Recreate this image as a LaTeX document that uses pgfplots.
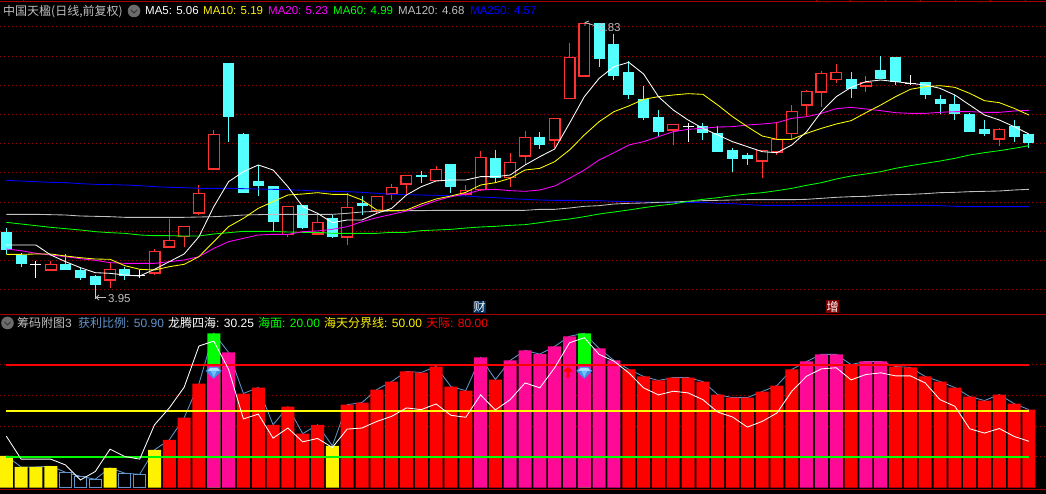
\documentclass[border=0pt]{standalone}
\usepackage{pgfplots}
\usepackage{pgfplotstable}
\usepackage{fontspec}
\pgfplotsset{compat=1.18}
\setmainfont{Liberation Sans}
\newfontfamily\cjk{Noto Sans CJK SC}

\definecolor{gridred}{HTML}{A00000}
\definecolor{sepred}{HTML}{A80000}
\definecolor{upcyan}{HTML}{54FFFF}
\definecolor{upred}{HTML}{FF3232}
\definecolor{ltgray}{HTML}{C0C0C0}
\definecolor{profit}{HTML}{5F94CC}
\definecolor{hotpink}{HTML}{FF0A96}
\definecolor{puremag}{HTML}{FF00FF}
\definecolor{lnred}{HTML}{FF0000}
\definecolor{lnyel}{HTML}{FFFF00}
\definecolor{lngrn}{HTML}{00FF00}
\definecolor{gemA}{HTML}{3E8FE8}
\definecolor{gemB}{HTML}{A8DDFF}
\definecolor{gemC}{HTML}{70C0FA}
\definecolor{flagblue}{HTML}{003060}
\definecolor{flagred}{HTML}{800000}

% upper panel has no price scale, heights are read off the screen (3 units = 1 px, from the top)
% k: 0 falling, 1 rising, 2 doji
\pgfplotstableread{
i top bot hi lo k m5 m10 m20 m60 m120 m250
0 696 750 685 762 0 735 763 747 667 643 541
1 766 792 760 800 0 735 763 752 672 643 543
2 792 795 782 833 2 735 762 760 677 643 545
3 793 812 782 812 1 765 762 765 682 644 547
4 793 810 762 810 0 785 768 770 686 645 548
5 810 834 803 840 0 803 773 776 690 648 551
6 828 855 825 897 0 818 777 781 695 649 553
7 808 842 790 863 1 820 778 788 698 650 554
8 807 827 800 840 0 825 797 790 700 652 555
9 825 828 810 835 2 828 808 790 705 652 557
10 754 821 747 825 1 808 810 790 707 652 560
11 721 743 657 743 1 785 800 785 707 652 562
12 677 712 677 741 1 762 793 780 708 652 563
13 580 641 556 645 1 710 770 770 708 651 565
14 403 509 390 509 1 620 725 745 702 650 565
15 189 351 189 426 0 545 680 725 698 648 565
16 402 579 399 579 0 515 655 715 694 645 566
17 543 558 495 588 0 495 625 705 694 644 567
18 558 666 558 695 0 510 605 703 694 643 568
19 619 705 619 710 1 560 585 703 696 643 569
20 615 684 615 688 0 620 582 695 697 643 571
21 667 704 640 704 1 640 578 693 697 643 573
22 654 711 645 714 0 668 583 688 700 643 574
23 622 713 580 735 1 660 583 680 700 640 575
24 609 617 588 645 0 660 600 665 700 636 577
25 589 633 587 640 1 640 630 653 700 634 580
26 562 584 552 600 1 625 632 643 697 633 583
27 526 554 526 582 1 585 630 633 697 632 584
28 525 530 513 549 0 560 612 618 692 632 585
29 508 543 498 543 1 543 597 602 690 631 586
30 492 561 492 580 0 540 588 590 688 631 587
31 571 584 556 588 1 540 577 582 684 631 588
32 470 570 453 572 1 530 555 570 681 631 591
33 474 534 450 550 0 530 548 568 679 631 593
34 487 535 460 561 1 525 535 572 676 631 596
35 412 470 393 495 1 495 510 574 674 631 598
36 411 435 396 447 0 470 505 570 668 628 600
37 355 422 355 445 1 447 485 558 662 628 601
38 172 298 129 298 1 370 450 535 657 624 601
39 70 230 70 230 1 290 405 510 650 619 602
40 70 177 70 200 0 235 365 480 642 617 602
41 132 228 102 240 0 200 335 458 636 612 604
42 216 285 183 297 0 187 318 435 630 610 605
43 298 354 258 360 0 222 298 425 623 609 606
44 351 396 330 412 0 290 290 410 617 607 607
45 373 392 373 435 1 330 285 395 612 606 607
46 378 381 368 426 2 360 281 388 604 604 607
47 377 399 369 420 0 385 283 385 598 602 607
48 400 456 378 456 0 405 315 381 593 601 610
49 450 477 445 516 0 425 350 380 587 600 611
50 465 477 459 495 0 440 380 375 582 599 614
51 450 485 450 533 1 455 408 372 578 599 616
52 418 458 365 465 1 458 418 368 572 599 616
53 334 402 316 418 1 435 418 355 565 599 616
54 274 317 270 348 1 395 400 350 556 598 616
55 220 278 213 321 1 335 385 340 548 595 616
56 217 240 192 249 1 290 372 326 537 592 616
57 237 267 216 294 0 262 362 322 528 590 616
58 247 260 228 276 1 245 338 327 522 589 616
59 210 238 168 238 0 240 315 332 515 586 616
60 171 246 171 255 0 245 290 338 505 584 616
61 249 252 225 255 2 250 268 340 497 583 616
62 246 285 246 297 0 255 260 340 490 581 616
63 297 312 285 342 0 265 257 337 483 578 617
64 312 342 285 360 0 285 262 335 475 577 619
65 342 396 339 396 0 315 280 335 465 575 620
66 387 402 360 408 0 345 302 337 458 574 620
67 388 419 384 438 1 360 308 337 452 573 620
68 378 411 360 426 0 380 325 333 445 570 620
69 402 429 402 444 0 402 345 331 437 568 620
}\kline

% lower panel: v profit ratio, w longteng, k: 0 yellow, 1 hollow, 2 red, 3 pink, 4 green top
\pgfplotstableread{
i v w k
0 20.7 33.6 0
1 13.5 18.6 0
2 13.5 18.6 0
3 14.0 18.6 0
4 10.0 14.8 1
5 7.4 5.0 1
6 5.5 10.5 1
7 12.9 25.1 0
8 9.4 20.3 1
9 8.7 18.6 1
10 24.7 41.0 0
11 31.2 52.0 2
12 45.6 65.5 2
13 67.9 92.4 2
14 100.7 95.6 4
15 88.2 77.1 3
16 61.4 44.8 2
17 65.3 48.0 2
18 41.0 32.3 2
19 52.8 38.9 2
20 35.2 29.9 2
21 41.0 32.1 2
22 27.3 26.2 0
23 54.1 38.2 2
24 55.5 38.9 2
25 64.0 43.2 2
26 69.2 46.5 2
27 75.8 52.0 2
28 75.1 50.9 2
29 79.0 54.6 2
30 65.9 47.2 2
31 63.3 45.9 2
32 84.9 60.5 3
33 70.5 50.7 2
34 83.0 57.4 3
35 89.5 68.3 3
36 87.1 65.1 3
37 92.1 78.2 3
38 98.7 94.5 3
39 100.7 97.8 4
40 90.8 86.9 3
41 83.0 82.5 3
42 77.1 74.9 2
43 72.5 65.1 2
44 69.9 60.5 2
45 71.8 62.9 2
46 71.8 61.8 2
47 69.2 57.4 2
48 60.7 49.3 2
49 58.7 46.1 2
50 58.7 39.5 2
51 62.7 43.2 2
52 66.6 48.7 2
53 77.1 62.9 2
54 82.3 72.7 3
55 86.9 77.5 3
56 86.9 78.2 3
57 80.3 70.3 2
58 82.3 73.8 3
59 82.3 74.9 3
60 79.0 72.9 2
61 78.4 72.9 2
62 72.5 68.3 2
63 69.2 57.4 2
64 65.3 53.1 2
65 59.4 38.4 2
66 56.8 35.6 2
67 60.7 38.6 2
68 54.8 33.4 2
69 50.9 30.25 2
}\chips

\newcommand{\kx}[1]{\thisrow{k}==#1 ? \thisrow{i} : nan}

\pgfplotsset{
  panel/.style={
    scale only axis, width=1046pt,
    xmin=-0.425, xmax=70.15,
    axis line style={draw=none}, tick style={draw=none},
    xtick=\empty, yticklabels={},
  },
  dotgrid/.style={
    ymajorgrids,
    grid style={draw=gridred, line width=1pt, dash pattern=on 1pt off 3pt},
  },
  ma/.style={no markers, line width=0.85pt, draw=#1},
  level/.style={no markers, line width=1.4pt, draw=#1},
  colbar/.style={ybar, bar width=13pt, bar shift=0pt, fill=#1, draw=none},
}

% one layer of candles, kind colour width from to inset
\newcommand{\cpass}[6]{%
  \addplot[no markers, draw=none,
    error bars/.cd, y dir=plus, y explicit, error mark=none,
    error bar style={draw=#2, line width=#3pt}]
    table[x expr=\kx{#1}, y expr=\thisrow{#4}+#6, y error plus expr=\thisrow{#5}-\thisrow{#4}-2*#6]{\kline};
}

\pgfdeclareplotmark{gem}{%
  \pgfsetfillcolor{gemA}%
  \pgfpathmoveto{\pgfpoint{-8pt}{2pt}}\pgfpathlineto{\pgfpoint{-4pt}{6pt}}%
  \pgfpathlineto{\pgfpoint{4pt}{6pt}}\pgfpathlineto{\pgfpoint{8pt}{2pt}}%
  \pgfpathlineto{\pgfpoint{0pt}{-6pt}}\pgfpathclose\pgfusepathqfill
  \pgfsetfillcolor{gemB}%
  \pgfpathmoveto{\pgfpoint{-6pt}{2pt}}\pgfpathlineto{\pgfpoint{-3.5pt}{5pt}}%
  \pgfpathlineto{\pgfpoint{3.5pt}{5pt}}\pgfpathlineto{\pgfpoint{6pt}{2pt}}\pgfpathclose\pgfusepathqfill
  \pgfsetfillcolor{gemC}%
  \pgfpathmoveto{\pgfpoint{-3pt}{2pt}}\pgfpathlineto{\pgfpoint{3pt}{2pt}}%
  \pgfpathlineto{\pgfpoint{0pt}{-4.5pt}}\pgfpathclose\pgfusepathqfill
}
\pgfdeclareplotmark{uparrow}{%
  \pgfsetfillcolor{red}%
  \pgfpathmoveto{\pgfpoint{0pt}{5.5pt}}\pgfpathlineto{\pgfpoint{-5.5pt}{0.5pt}}%
  \pgfpathlineto{\pgfpoint{-1.5pt}{0.5pt}}\pgfpathlineto{\pgfpoint{-1.5pt}{-5.5pt}}%
  \pgfpathlineto{\pgfpoint{1.5pt}{-5.5pt}}\pgfpathlineto{\pgfpoint{1.5pt}{0.5pt}}%
  \pgfpathlineto{\pgfpoint{5.5pt}{0.5pt}}\pgfpathclose\pgfusepathqfill
}

\newcommand{\lab}[4]{\node[anchor=base west, inner sep=0pt, text=#1] at (#2pt,494pt-#3pt) {#4};}
\newcommand{\chev}[2]{%
  \fill[gray!85!black] (#1pt,494pt-#2pt) circle (6.3pt);
  \draw[black!80, line width=1pt] (#1pt-3pt,494pt-#2pt+1pt) -- (#1pt,494pt-#2pt-2pt) -- (#1pt+3pt,494pt-#2pt+1pt);
}

\begin{document}
\begin{tikzpicture}
\fill[black] (0pt,0pt) rectangle (1046pt,494pt);

% K line panel
\begin{axis}[panel, dotgrid, at={(0pt,180pt)}, anchor=south west, height=314pt,
    y dir=reverse, ymin=0, ymax=942,
    ytick={80,170,257,344,431,518,607,694,782,869}]
\cpass{0}{upcyan}{1}{hi}{lo}{0}
\cpass{0}{upcyan}{11}{top}{bot}{0}
\cpass{1}{upred}{1}{hi}{lo}{0}
\cpass{1}{upred}{12}{top}{bot}{0}
\cpass{1}{black}{9.5}{top}{bot}{3.5}
\cpass{2}{white}{1}{hi}{lo}{0}
\cpass{2}{white}{11}{top}{bot}{0}
\addplot[ma=blue] table[x=i,y=m250]{\kline};
\addplot[ma=ltgray] table[x=i,y=m120]{\kline};
\addplot[ma=lngrn] table[x=i,y=m60]{\kline};
\addplot[ma=puremag] table[x=i,y=m20]{\kline};
\addplot[ma=lnyel] table[x=i,y=m10]{\kline};
\addplot[ma=white] table[x=i,y=m5]{\kline};
\end{axis}

% chips panel
\begin{axis}[panel, dotgrid, at={(0pt,0pt)}, anchor=south west, height=180pt,
    ymin=-4.13, ymax=113.26,
    ytick={20,40,60,80}]
\addplot[ma=profit] table[x=i,y=v]{\chips};
\addplot[colbar=green] table[x expr=\kx{4},y=v]{\chips};
\addplot[colbar=hotpink] coordinates {(14,79.5)(39,79.5)};
\addplot[colbar=hotpink] table[x expr=\kx{3},y=v]{\chips};
\addplot[colbar=red] table[x expr=\kx{2},y=v]{\chips};
\addplot[colbar=yellow] table[x expr=\kx{0},y=v]{\chips};
\addplot[ybar, bar width=12pt, bar shift=0pt, fill=black, draw=profit, line width=1pt] table[x expr=\kx{1},y=v]{\chips};
\addplot[level=lnred] coordinates {(0,80)(69,80)};
\addplot[level=lnyel] coordinates {(0,50)(69,50)};
\addplot[level=lngrn] coordinates {(0,20)(69,20)};
\addplot[ma=white] table[x=i,y=w]{\chips};
\addplot[only marks, mark=gem] coordinates {(14,74.9)(39,74.9)};
\addplot[only marks, mark=uparrow] coordinates {(37.9,75.3)};
\end{axis}

% frame lines
\draw[sepred, line width=1pt] (0pt,494pt-1.5pt) -- (1046pt,494pt-1.5pt);
\foreach \tx in {23,816,850.5,885,920,955,990,1025}
  \draw[sepred, line width=1pt] (\tx pt,494pt) -- (\tx pt,494pt-1.5pt);
\draw[sepred, line width=1pt] (0pt,494pt-314.5pt) -- (1046pt,494pt-314.5pt);
\draw[sepred, line width=1pt] (0pt,494pt-490pt) -- (1046pt,494pt-490pt);

% high and low tags
\draw[ltgray, line width=0.8pt] (96pt,494pt-297.5pt) -- (106pt,494pt-297.5pt);
\draw[ltgray, line width=0.8pt] (99pt,494pt-295pt) -- (96pt,494pt-297.5pt) -- (99pt,494pt-300pt);
\lab{ltgray}{108}{302.5}{\fontsize{11.5}{13}\selectfont 3.95}
\draw[ltgray, line width=0.8pt] (585pt,494pt-22.5pt) -- (596pt,494pt-26pt);
\draw[ltgray, line width=0.8pt] (585pt,494pt-26pt) -- (585pt,494pt-22.5pt) -- (589pt,494pt-21pt);
\lab{ltgray}{598}{32}{\fontsize{11.5}{13}\selectfont 6.83}

% news flags
\fill[flagblue] (473pt,494pt-301pt) rectangle (486pt,494pt-313pt);
\node[text=white, inner sep=0pt] at (479.5pt,494pt-307pt) {\fontsize{12}{12}\selectfont\cjk 财};
\fill[flagred] (826pt,494pt-300pt) rectangle (839pt,494pt-313pt);
\node[text=white, inner sep=0pt] at (832.5pt,494pt-306.5pt) {\fontsize{12}{12}\selectfont\cjk 增};

% upper title row
\lab{ltgray}{3}{15.5}{\fontsize{12}{14}\selectfont\cjk 中国天楹(日线,前复权)}
\chev{134}{11}
\lab{white}{145}{15}{\fontsize{11.5}{14}\selectfont MA5: 5.06}
\lab{yellow}{203}{15}{\fontsize{11.5}{14}\selectfont MA10: 5.19}
\lab{puremag}{268}{15}{\fontsize{11.5}{14}\selectfont MA20: 5.23}
\lab{green}{333}{15}{\fontsize{11.5}{14}\selectfont MA60: 4.99}
\lab{ltgray}{398}{15}{\fontsize{11.5}{14}\selectfont MA120: 4.68}
\lab{blue}{470}{15}{\fontsize{11.5}{14}\selectfont MA250: 4.57}

% lower title row
\chev{7.5}{323}
\lab{ltgray}{17}{328}{\fontsize{12}{14}\selectfont{\cjk 筹码附图}3}
\lab{profit}{78}{328}{\fontsize{12}{14}\selectfont{\cjk 获利比例}: 50.90}
\lab{white}{168}{328}{\fontsize{12}{14}\selectfont{\cjk 龙腾四海}: 30.25}
\lab{green}{258}{328}{\fontsize{12}{14}\selectfont{\cjk 海面}: 20.00}
\lab{yellow}{324}{328}{\fontsize{12}{14}\selectfont{\cjk 海天分界线}: 50.00}
\lab{red}{426}{328}{\fontsize{12}{14}\selectfont{\cjk 天际}: 80.00}

\pgfresetboundingbox
\path[use as bounding box] (0pt,0pt) rectangle (1046pt,494pt);
\end{tikzpicture}
\end{document}
